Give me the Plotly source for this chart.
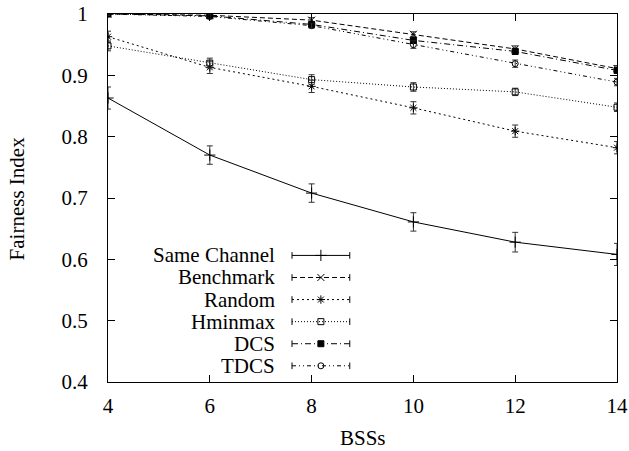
import plotly.graph_objects as go

bss = [4, 6, 8, 10, 12, 14]
series_names = ["Same Channel", "Benchmark", "Random", "Hminmax", "DCS", "TDCS"]
same_channel = [0.863, 0.770, 0.708, 0.661, 0.628, 0.608]
same_channel_err = [0.018, 0.015, 0.015, 0.015, 0.016, 0.018]
benchmark = [1.000, 0.998, 0.990, 0.967, 0.943, 0.911]
benchmark_err = [0.002, 0.003, 0.004, 0.004, 0.005, 0.005]
random_ = [0.963, 0.913, 0.882, 0.847, 0.809, 0.782]
random_err = [0.009, 0.010, 0.010, 0.010, 0.010, 0.010]
hminmax = [0.948, 0.920, 0.893, 0.881, 0.873, 0.848]
hminmax_err = [0.008, 0.008, 0.008, 0.007, 0.006, 0.007]
dcs = [1.000, 0.997, 0.983, 0.957, 0.939, 0.908]
dcs_err = [0.002, 0.003, 0.004, 0.005, 0.005, 0.005]
tdcs = [1.000, 0.996, 0.981, 0.950, 0.919, 0.889]
tdcs_err = [0.002, 0.003, 0.004, 0.006, 0.006, 0.006]
x_ticks = [4, 6, 8, 10, 12, 14]
y_ticks = [0.4, 0.5, 0.6, 0.7, 0.8, 0.9, 1.0]
y_tick_labels = ["0.4", "0.5", "0.6", "0.7", "0.8", "0.9", "1"]
x_title = "BSSs"
y_title = "Fairness Index"

values = [same_channel, benchmark, random_, hminmax, dcs, tdcs]
errors = [same_channel_err, benchmark_err, random_err, hminmax_err, dcs_err, tdcs_err]
dashes = ["solid", "5px,3px", "2px,3px", "1px,2px", "6px,3px,1px,3px", "4px,3px,1px,3px,1px,3px"]
symbols = ["cross-thin-open", "x-thin-open", "asterisk-open", "square-open", "square", "circle-open"]
sizes = [8, 7, 7, 6, 6, 6]

FONT = "Liberation Serif, Times New Roman, Times, serif"
FS = 21
fig = go.Figure()

for name, v, e, d, s, sz in zip(series_names, values, errors, dashes, symbols, sizes):
    fig.add_trace(go.Scatter(
        x=bss, y=v, name=name, mode="lines+markers",
        line=dict(color="black", width=1, dash=d),
        marker=dict(symbol=s, size=sz, color="black", line=dict(color="black", width=1)),
        error_y=dict(type="data", array=e, visible=True, color="#333333", thickness=1, width=3),
        showlegend=False,
    ))

# custom gnuplot-style legend (text right-aligned, sample to its right)
leg_y = [0.344, 0.284, 0.224, 0.164, 0.104, 0.044]
x_text = 0.332
x0, x1 = 0.3615, 0.475
xc = (x0 + x1) / 2
shapes = []
annotations = []
for name, d, s, sz, yy in zip(series_names, dashes, symbols, sizes, leg_y):
    annotations.append(dict(x=x_text, y=yy, xref="paper", yref="paper", text=name,
                            showarrow=False, xanchor="right", yanchor="middle", height=20,
                            font=dict(family=FONT, size=FS, color="black")))
    shapes.append(dict(type="line", xref="paper", yref="paper", x0=x0, x1=x1, y0=yy, y1=yy,
                       line=dict(color="black", width=1, dash=d)))
    for xe in (x0, x1):
        shapes.append(dict(type="line", xref="paper", yref="paper", x0=xe, x1=xe,
                           y0=yy - 0.009, y1=yy + 0.009, line=dict(color="black", width=1)))
    fig.add_trace(go.Scatter(x=[xc], y=[yy], xaxis="x2", yaxis="y2", mode="markers",
                             marker=dict(symbol=s, size=sz, color="black",
                                         line=dict(color="black", width=1)),
                             showlegend=False, hoverinfo="skip"))

# axis titles
annotations.append(dict(x=0.5, y=-0.113, xref="paper", yref="paper", text=x_title,
                        showarrow=False, xanchor="center", yanchor="top",
                        font=dict(family=FONT, size=FS, color="black")))
annotations.append(dict(x=-0.178, y=0.5, xref="paper", yref="paper", text=y_title,
                        showarrow=False, xanchor="center", yanchor="middle", textangle=-90,
                        font=dict(family=FONT, size=FS, color="black")))

fig.update_layout(
    width=629, height=451,
    margin=dict(l=108, r=12, t=14, b=69, autoexpand=False),
    paper_bgcolor="white", plot_bgcolor="white",
    font=dict(family=FONT, size=FS, color="black"),
    showlegend=False,
    shapes=shapes, annotations=annotations,
    xaxis=dict(range=[4, 14], tickvals=x_ticks, ticks="inside", ticklen=7, tickwidth=1,
               tickcolor="black", showline=True, linecolor="black", linewidth=1, mirror="ticks",
               showgrid=False, zeroline=False, ticklabelstandoff=5, automargin=False,
               tickfont=dict(family=FONT, size=FS)),
    yaxis=dict(range=[0.4, 1.0], tickvals=y_ticks, ticktext=y_tick_labels, ticks="inside",
               ticklen=7, tickwidth=1, tickcolor="black", showline=True, linecolor="black",
               linewidth=1, mirror="ticks", showgrid=False, zeroline=False, ticklabelstandoff=15,
               automargin=False, tickfont=dict(family=FONT, size=FS)),
    xaxis2=dict(overlaying="x", range=[0, 1], visible=False),
    yaxis2=dict(overlaying="y", range=[0, 1], visible=False),
)

fig.write_html("out.html", config={"displayModeBar": False},
               post_script="document.body.style.margin='0';document.body.style.padding='0';"
                           "document.body.style.overflow='hidden';")
